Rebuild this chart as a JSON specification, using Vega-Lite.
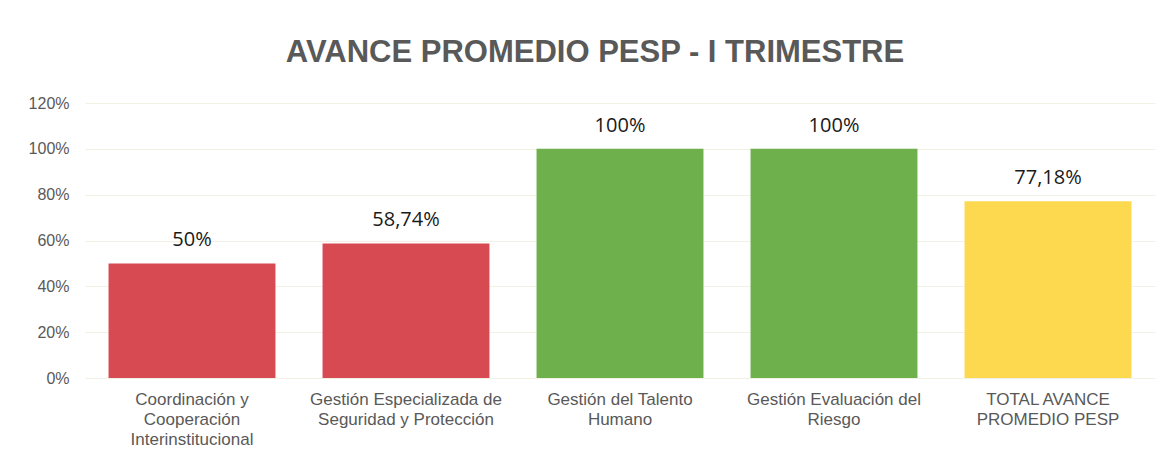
{
  "$schema": "https://vega.github.io/schema/vega-lite/v6.json",
  "width": 1070,
  "height": 275,
  "autosize": {"type": "none"},
  "padding": {"left": 85, "top": 103, "right": 10, "bottom": 85},
  "background": "white",
  "title": {
    "text": "AVANCE PROMEDIO PESP - I TRIMESTRE",
    "font": "Liberation Sans",
    "fontSize": 31,
    "fontWeight": "bold",
    "color": "#595959",
    "anchor": "middle",
    "dx": -25,
    "offset": 26
  },
  "data": {
    "values": [
      {"categoria": "Coordinación y|Cooperación|Interinstitucional", "avance": 0.50, "etiqueta": "50%", "estado": "bajo"},
      {"categoria": "Gestión Especializada de|Seguridad y Protección", "avance": 0.5874, "etiqueta": "58,74%", "estado": "bajo"},
      {"categoria": "Gestión del Talento|Humano", "avance": 1.0, "etiqueta": "100%", "estado": "alto"},
      {"categoria": "Gestión Evaluación del|Riesgo", "avance": 1.0, "etiqueta": "100%", "estado": "alto"},
      {"categoria": "TOTAL AVANCE|PROMEDIO PESP", "avance": 0.7718, "etiqueta": "77,18%", "estado": "medio"}
    ]
  },
  "encoding": {
    "x": {
      "field": "categoria",
      "type": "nominal",
      "sort": null,
      "scale": {"paddingInner": 0.22, "paddingOuter": 0.11},
      "axis": {
        "title": null,
        "labelAngle": 0,
        "labelExpr": "split(datum.value, '|')",
        "labelFont": "Liberation Sans",
        "labelFontSize": 17,
        "labelColor": "#595959",
        "labelPadding": 13,
        "labelLineHeight": 20,
        "labelBaseline": "top",
        "labelLimit": 400,
        "labelOverlap": false,
        "domain": false,
        "ticks": false
      }
    },
    "y": {
      "field": "avance",
      "type": "quantitative",
      "scale": {"domain": [0, 1.2]},
      "axis": {
        "title": null,
        "format": ".0%",
        "values": [0, 0.2, 0.4, 0.6, 0.8, 1.0, 1.2],
        "labelFont": "Liberation Sans",
        "labelFontSize": 16,
        "labelColor": "#595959",
        "labelPadding": 16,
        "domain": false,
        "ticks": false,
        "grid": true,
        "gridColor": "#f2f2e4",
        "gridWidth": 1
      }
    }
  },
  "layer": [
    {
      "mark": {"type": "bar"},
      "encoding": {
        "color": {
          "field": "estado",
          "type": "nominal",
          "scale": {"domain": ["bajo", "alto", "medio"], "range": ["#d84a52", "#6eb04c", "#fcd94f"]},
          "legend": null
        }
      }
    },
    {
      "mark": {"type": "text", "baseline": "bottom", "dy": -13, "font": "Open Sans", "fontSize": 20, "color": "#1a1a1a"},
      "encoding": {
        "text": {"field": "etiqueta", "type": "nominal"}
      }
    }
  ],
  "config": {"view": {"stroke": null}}
}
